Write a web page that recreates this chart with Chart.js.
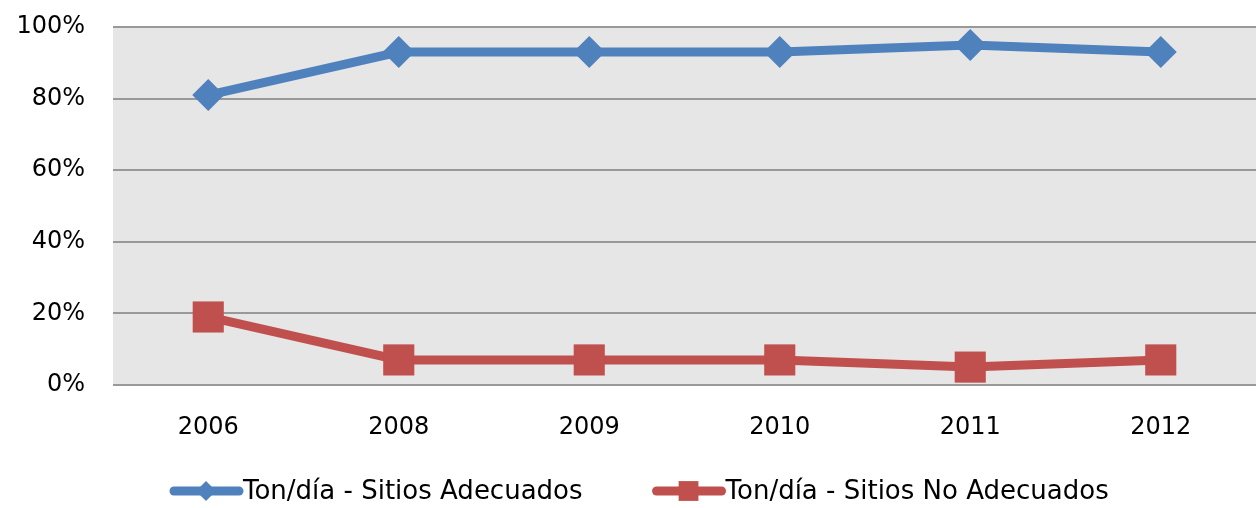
<!DOCTYPE html>
<html>
<head>
<meta charset="utf-8">
<script src="https://cdn.jsdelivr.net/npm/chart.js@4/dist/chart.umd.min.js"></script>
<style>
  html, body { margin: 0; padding: 0; background: #fff; overflow: hidden; }
  canvas { display: block; }
</style>
</head>
<body>
<canvas id="residuosChart" width="1256" height="508"></canvas>
<script>
// Data
const years = ['2006', '2008', '2009', '2010', '2011', '2012'];
const adecuados = [81, 93, 93, 93, 95, 93];
const noAdecuados = [19, 7, 7, 7, 5, 7];
const yTicks = [0, 20, 40, 60, 80, 100];

const BLUE = '#4F81BD';
const RED = '#C0504D';
const FONT = 'DejaVu Sans';

// Gray plot background
const plotBg = {
  id: 'plotBg',
  beforeDraw(chart) {
    const { ctx, chartArea: a } = chart;
    ctx.save();
    ctx.fillStyle = '#E6E6E6';
    ctx.fillRect(a.left, a.top, a.right - a.left, a.bottom - a.top);
    ctx.restore();
  }
};

// Legend under the axis: line + marker, then label
const lineLegend = {
  id: 'lineLegend',
  afterDraw(chart) {
    const ctx = chart.ctx;
    const y = 491;
    let x = 170;
    ctx.save();
    ctx.font = '26px "' + FONT + '"';
    ctx.textBaseline = 'middle';
    ctx.textAlign = 'left';
    chart.data.datasets.forEach(ds => {
      ctx.strokeStyle = ds.borderColor;
      ctx.lineWidth = 9;
      ctx.lineCap = 'round';
      ctx.beginPath();
      ctx.moveTo(x + 4, y);
      ctx.lineTo(x + 69, y);
      ctx.stroke();
      ctx.fillStyle = ds.backgroundColor;
      Chart.helpers.drawPoint(ctx, {
        pointStyle: ds.pointStyle,
        radius: ds.pointStyle === 'rect' ? 14 : 10,
        borderWidth: 0,
        rotation: 0,
      }, x + 36, y);
      ctx.fillStyle = '#000';
      ctx.fillText(ds.label, x + 73, y + 1);
      x += 73 + ctx.measureText(ds.label).width + 70;
    });
    ctx.restore();
  }
};

new Chart(document.getElementById('residuosChart'), {
  type: 'line',
  data: {
    labels: years,
    datasets: [
      {
        label: 'Ton/día - Sitios Adecuados',
        data: adecuados,
        borderColor: BLUE,
        backgroundColor: BLUE,
        borderWidth: 9,
        pointStyle: 'rectRot',
        pointRadius: 16,
        pointBorderWidth: 0,
        pointHoverRadius: 16,
        tension: 0,
      },
      {
        label: 'Ton/día - Sitios No Adecuados',
        data: noAdecuados,
        borderColor: RED,
        backgroundColor: RED,
        borderWidth: 9,
        pointStyle: 'rect',
        pointRadius: 22,
        pointBorderWidth: 0,
        pointHoverRadius: 22,
        tension: 0,
      },
    ],
  },
  options: {
    responsive: false,
    animation: false,
    layout: { autoPadding: false, padding: { top: 27, right: 0, left: 0, bottom: 45 } },
    plugins: {
      tooltip: { enabled: false },
      legend: { display: false },
    },
    scales: {
      x: {
        offset: true,
        grid: { display: false, drawTicks: false },
        border: { display: false },
        ticks: {
          font: { family: FONT, size: 24 },
          color: '#000',
          padding: 28,
        },
        afterFit(scale) {
          scale.height = 78;
          scale.paddingLeft = 0;
          scale.paddingRight = 0;
        },
      },
      y: {
        min: 0,
        max: 100,
        afterBuildTicks(scale) { scale.ticks = yTicks.map(v => ({ value: v })); },
        grid: { color: '#999999', lineWidth: 2, drawTicks: false },
        border: { display: false },
        ticks: {
          font: { family: FONT, size: 24 },
          color: '#000',
          padding: 28,
          callback: v => v + '%',
        },
        afterFit(scale) {
          scale.width = 113;
          scale.paddingTop = 0;
          scale.paddingBottom = 0;
        },
      },
    },
  },
  plugins: [plotBg, lineLegend],
});
</script>
</body>
</html>
